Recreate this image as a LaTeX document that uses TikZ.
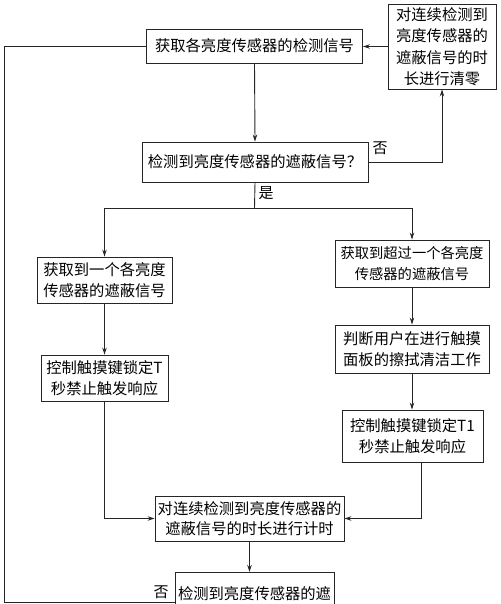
\documentclass[tikz,border=0pt]{standalone}
\usepackage{fontspec}
\newfontfamily\cjk{Noto Sans CJK SC}
\usetikzlibrary{arrows.meta}
\begin{document}
\begin{tikzpicture}[x=1pt,y=-1pt,
  box/.style={draw=black!85,line width=0.9pt,align=center,inner sep=0pt,
    font=\cjk\fontsize{15.3}{20.5}\selectfont},
  conn/.style={draw=black!85,line width=0.9pt},
  arr/.style={conn,-{Stealth[length=7pt,width=4.5pt]}},
  lbl/.style={font=\cjk\fontsize{15}{17}\selectfont,inner sep=0pt}]
\useasboundingbox (0,0) rectangle (500,604);
\clip (0,0) rectangle (500,604);
\node[box,minimum width=216,minimum height=34] (box1) at (254.5,46) {获取各亮度传感器的检测信号};
\node[box,minimum width=108,minimum height=85,font=\cjk\fontsize{15.3}{21.5}\selectfont] (clear) at (442,46.5) {对连续检测到\\亮度传感器的\\遮蔽信号的时\\长进行清零};
\node[box,minimum width=226,minimum height=40] (dec) at (255,162) {检测到亮度传感器的遮蔽信号？};
\node[box,minimum width=135,minimum height=46] (A) at (104.5,280) {获取到一个各亮度\\传感器的遮蔽信号};
\node[box,minimum width=127,minimum height=46] (B) at (104.5,378) {控制触摸键锁定T\\秒禁止触发响应};
\node[box,minimum width=154,minimum height=47,font=\cjk\fontsize{14.3}{20.5}\selectfont] (C) at (412,263.5) {获取到超过一个各亮度\\传感器的遮蔽信号};
\node[box,minimum width=154,minimum height=48] (D) at (412,349) {判断用户在进行触摸\\面板的擦拭清洁工作};
\node[box,minimum width=141,minimum height=52] (E) at (412.5,436) {控制触摸键锁定T1\\秒禁止触发响应};
\node[box,minimum width=189,minimum height=45] (F) at (249.5,518.5) {对连续检测到亮度传感器的\\遮蔽信号的时长进行计时};
\node[box,minimum width=159,minimum height=48,anchor=north,text depth=20pt,text height=27pt] (G) at (254.5,572) {检测到亮度传感器的遮};
\coordinate (split) at (254.5,208);
\coordinate (lb) at (4,602);
\coordinate (lt) at (4,46);
\draw[arr] (clear.west) -- (clear.west -| box1.east);
\draw[arr] (box1.south) -- (dec.north);
\draw[arr] (dec.east) -| (clear.south);
\node[lbl] (no1) at (380,148) {否};
\draw[conn] (dec.south) -- (split);
\node[lbl] (yes) at (266,193) {是};
\draw[arr] (split) -| (A.north);
\draw[arr] (split) -| (C.north);
\draw[arr] (A.south) -- (B.north);
\draw[arr] (C.south) -- (D.north);
\draw[arr] (D.south) -- (D.south |- E.north);
\draw[arr] (B.south) |- (F.west);
\draw[arr] ([xshift=9]E.south) |- (F.east);
\draw[arr] (F.south) -- (F.south |- G.north);
\draw[conn] (lb -| G.west) -- (lb) -- (lt) -- (box1.west);
\node[lbl] (no2) at (161,592) {否};
\end{tikzpicture}
\end{document}
